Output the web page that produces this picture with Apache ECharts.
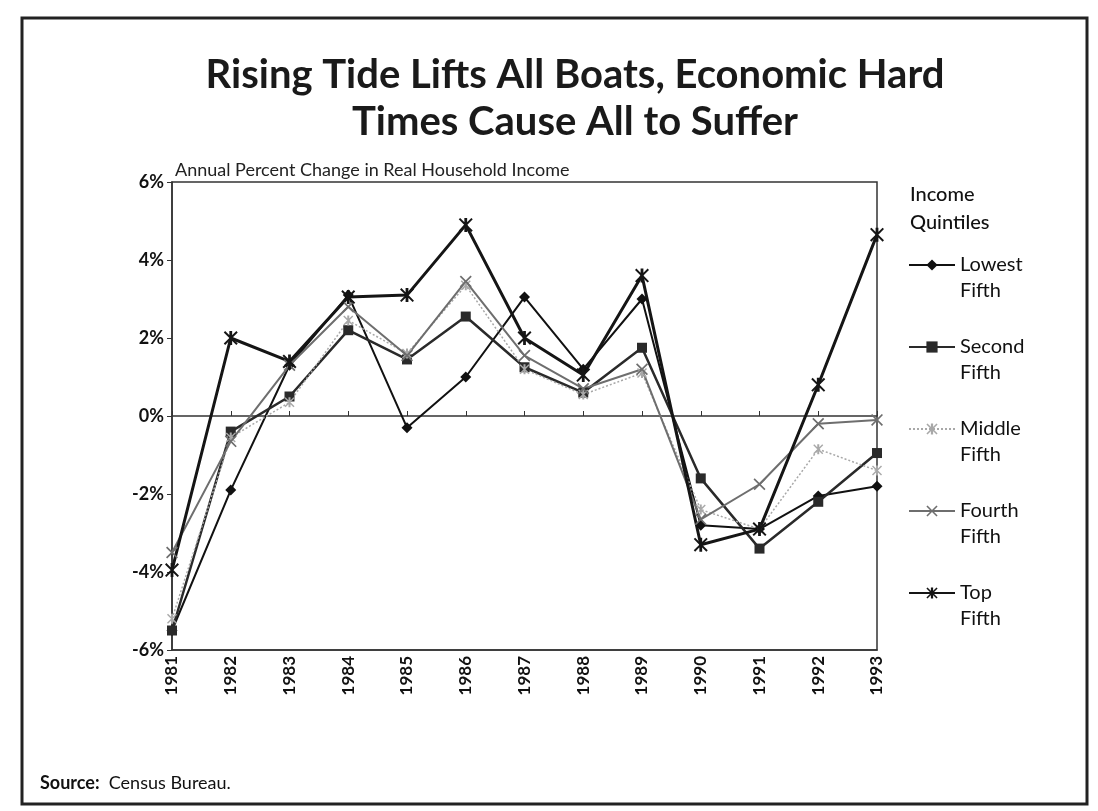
<!DOCTYPE html>
<html>
<head>
<meta charset="utf-8">
<script src="https://cdn.jsdelivr.net/npm/echarts@6/dist/echarts.min.js"></script>
<style>
  html, body { margin: 0; padding: 0; background: #fff; }
  #chart { width: 1098px; height: 811px; }
</style>
</head>
<body>
<div id="chart"></div>
<script>
// Annual percent change in real household income, by income quintile
const years = ['1981', '1982', '1983', '1984', '1985', '1986', '1987', '1988', '1989', '1990', '1991', '1992', '1993'];
const lowestFifth = [-5.5, -1.9, 1.3, 3.1, -0.3, 1.0, 3.05, 1.2, 3.0, -2.8, -2.9, -2.05, -1.8];
const secondFifth = [-5.5, -0.4, 0.5, 2.2, 1.45, 2.55, 1.25, 0.6, 1.75, -1.6, -3.4, -2.2, -0.95];
const middleFifth = [-5.2, -0.55, 0.35, 2.45, 1.6, 3.35, 1.2, 0.55, 1.1, -2.4, -2.9, -0.85, -1.4];
const fourthFifth = [-3.5, -0.65, 1.3, 2.8, 1.55, 3.45, 1.55, 0.7, 1.2, -2.65, -1.75, -0.2, -0.1];
const topFifth = [-3.95, 2.0, 1.4, 3.05, 3.1, 4.9, 2.0, 1.05, 3.6, -3.3, -2.9, 0.8, 4.65];
const seriesNames = ['Lowest Fifth', 'Second Fifth', 'Middle Fifth', 'Fourth Fifth', 'Top Fifth'];

const FONT = 'Lato, "Open Sans", sans-serif';

// marker shapes
const crossPath = 'path://M0,1L1,0L5,4L9,0L10,1L6,5L10,9L9,10L5,6L1,10L0,9L4,5Z';
const asteriskPath = 'path://M0,1L1,0L5,4L9,0L10,1L6,5L10,9L9,10L5,6L1,10L0,9L4,5Z M4,0L6,0L6,10L4,10Z';

const chart = echarts.init(document.getElementById('chart'), null, { renderer: 'canvas' });

function lineSeries(name, data, color, width, type, symbol, size) {
  return {
    name: name,
    type: 'line',
    data: data,
    xAxisIndex: 0,
    symbol: symbol,
    symbolSize: size,
    lineStyle: { color: color, width: width, type: type },
    itemStyle: { color: color },
    emphasis: { disabled: true },
    z: 3
  };
}

chart.setOption({
  animation: false,
  backgroundColor: '#fff',
  grid: {
    left: 172, right: 221, top: 182, bottom: 161,
    show: true, borderColor: '#333', borderWidth: 1.5
  },
  xAxis: [
    {
      type: 'category',
      data: years,
      boundaryGap: false,
      position: 'bottom',
      axisLine: { onZero: false, lineStyle: { color: '#333', width: 1.5 } },
      axisTick: { show: false },
      axisLabel: {
        rotate: 90, margin: 6, color: '#111',
        fontFamily: FONT, fontWeight: 'bold', fontSize: 17
      },
      splitLine: { show: false }
    },
    {
      type: 'category',
      data: years,
      boundaryGap: false,
      position: 'top',
      axisLine: { onZero: true, lineStyle: { color: '#333', width: 1.5 } },
      axisTick: { show: true, length: 5, lineStyle: { color: '#333' } },
      axisLabel: { show: false },
      splitLine: { show: false }
    }
  ],
  yAxis: {
    type: 'value',
    min: -6, max: 6, interval: 2,
    axisLine: { show: true, lineStyle: { color: '#333', width: 1.5 } },
    axisTick: { show: true, length: 5, lineStyle: { color: '#333' } },
    axisLabel: {
      formatter: v => v + '%', margin: 8, color: '#111',
      fontFamily: FONT, fontWeight: 'bold', fontSize: 18,
      padding: [12, 0, 0, 0]
    },
    splitLine: { show: false }
  },
  legend: {
    orient: 'vertical',
    left: 903, top: 221,
    itemWidth: 46, itemHeight: 14, itemGap: 4,
    data: seriesNames,
    selectedMode: false,
    formatter: n => '\n' + n.replace(' ', '\n'),
    textStyle: { fontFamily: FONT, fontSize: 20, lineHeight: 26, color: '#111' }
  },
  series: [
    lineSeries(seriesNames[0], lowestFifth, '#111', 2, 'solid', 'diamond', 11),
    lineSeries(seriesNames[1], secondFifth, '#2a2a2a', 2.5, 'solid', 'rect', 10),
    lineSeries(seriesNames[2], middleFifth, '#a8a8a8', 1.5, [2, 2], asteriskPath, 10),
    lineSeries(seriesNames[3], fourthFifth, '#6e6e6e', 2, 'solid', crossPath, 12),
    lineSeries(seriesNames[4], topFifth, '#151515', 3, 'solid', asteriskPath, 14)
  ],
  graphic: [
    {
      type: 'rect', silent: true, z: 0,
      shape: { x: 22, y: 18, width: 1065, height: 786 },
      style: { fill: 'none', stroke: '#222', lineWidth: 3 }
    },
    {
      type: 'text', x: 575, y: 75, silent: true,
      style: {
        text: 'Rising Tide Lifts All Boats, Economic Hard',
        fontFamily: FONT, fontWeight: 'bold', fontSize: 40, fill: '#1a1a1a',
        textAlign: 'center', textVerticalAlign: 'middle'
      }
    },
    {
      type: 'text', x: 575, y: 122, silent: true,
      style: {
        text: 'Times Cause All to Suffer',
        fontFamily: FONT, fontWeight: 'bold', fontSize: 40, fill: '#1a1a1a',
        textAlign: 'center', textVerticalAlign: 'middle'
      }
    },
    {
      type: 'text', x: 175, y: 170, silent: true,
      style: {
        text: 'Annual Percent Change in Real Household Income',
        fontFamily: FONT, fontSize: 18, fill: '#222',
        textAlign: 'left', textVerticalAlign: 'middle'
      }
    },
    {
      type: 'text', x: 910, y: 209, silent: true,
      style: {
        text: 'Income\nQuintiles',
        fontFamily: FONT, fontSize: 20, fontWeight: 500, lineHeight: 28, fill: '#111',
        textAlign: 'left', textVerticalAlign: 'middle'
      }
    },
    {
      type: 'text', x: 40, y: 783, silent: true,
      style: {
        text: '{b|Source:}  Census Bureau.',
        rich: {
          b: { fontFamily: FONT, fontSize: 18, fontWeight: 'bold', fill: '#111' }
        },
        fontFamily: FONT, fontSize: 18, fill: '#111',
        textAlign: 'left', textVerticalAlign: 'middle'
      }
    }
  ]
});
</script>
</body>
</html>
